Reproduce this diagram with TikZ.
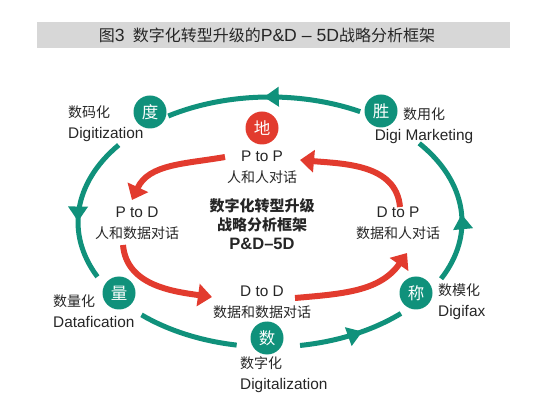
\documentclass[tikz,border=0pt]{standalone}
\usepackage{fontspec}
\setmainfont{Noto Sans CJK SC}
\newfontfamily\latin{Liberation Sans}[Scale=1.1]
\usetikzlibrary{calc,arrows.meta,decorations.markings}
\definecolor{ringgreen}{HTML}{10917B}
\definecolor{flowred}{HTML}{E23B2E}
\definecolor{bargray}{HTML}{D7D7D7}
\tikzset{>=stealth}
\tikzset{
  stage/.style={circle,fill=#1,text=white,minimum size=33pt,inner sep=0pt,font=\fontsize{16.5}{16}\selectfont},
  stage/.default=ringgreen,
  tagtext/.style={inner sep=0pt,font=\fontsize{14}{21}\selectfont,text=black!85},
  ring/.style={ringgreen,line width=5pt},
  ringarrow/.style={postaction={decorate},decoration={markings,mark=at position #1 with {\arrow{Triangle[length=15pt,width=19pt]}}}},
  flow/.style={draw=flowred,line width=6pt,-{Triangle[length=14pt,width=22pt]}}
}

\begin{document}
\begin{tikzpicture}[x=1pt,y=1pt]
\useasboundingbox (0,0) rectangle (534,409);
\fill[bargray] (37,361) rectangle (510,387);
\node[font=\fontsize{16}{16}\selectfont,text=black!85] (title) at (267,374) {图{\latin 3}\enspace 数字化转型升级的{\latin P\&D – 5D}战略分析框架};
\coordinate (O) at (270,187);
\draw[ring,ringarrow=0.5] (O) ++(62:192pt and 125pt) arc[start angle=62,end angle=122,x radius=192pt,y radius=125pt];
\draw[ring,ringarrow=0.6] (O) ++(142:192pt and 125pt) arc[start angle=142,end angle=206,x radius=192pt,y radius=125pt];
\draw[ring] (O) ++(228:192pt and 125pt) arc[start angle=228,end angle=260,x radius=192pt,y radius=125pt];
\draw[ring,ringarrow=0.6] (O) ++(279:192pt and 125pt) arc[start angle=279,end angle=313,x radius=192pt,y radius=125pt];
\draw[ring,ringarrow=0.45] (O) ++(333:192pt and 125pt) arc[start angle=333,end angle=399,x radius=192pt,y radius=125pt];
\node[stage] (du) at (150,297) {度};
\node[stage] (sheng) at (381,298) {胜};
\node[stage] (liang) at (119,116) {量};
\node[stage] (shu) at (267,71) {数};
\node[stage] (cheng) at (416,116) {称};
\node[stage=flowred] (di) at (262,281) {地};
\node[tagtext,align=left,anchor=west] (digitization) at (68,285) {数码化\\{\latin Digitization}};
\node[tagtext,align=center] (marketing) at (424,283) {数用化\\{\latin Digi Marketing}};
\node[tagtext,align=left,anchor=west] (datafication) at (53,98) {数量化\\{\latin Datafication}};
\node[tagtext,align=left,anchor=west] (digitalization) at (240,34) {数字化\\{\latin Digitalization}};
\node[tagtext,align=left,anchor=west] (digifax) at (438,107) {数模化\\{\latin Digifax}};
\node[tagtext,align=center] (pp) at (262,242) {{\latin P to P}\\人和人对话};
\node[tagtext,align=center] (pd) at (137,186) {{\latin P to D}\\人和数据对话};
\node[tagtext,align=center] (dd) at (262,107) {{\latin D to D}\\数据和数据对话};
\node[tagtext,align=center] (dp) at (398,186) {{\latin D to P}\\数据和人对话};
\node[tagtext,align=center,font=\bfseries\fontsize{15}{19}\selectfont] (core) at (262,185) {数字化转型升级\\战略分析框架\\{\latin P\&D–5D}};
\draw[flow] ($(pp)+(-37,10)$) to[out=190,in=65] ($(pd)+(-5,23)$);
\draw[flow] ($(pd)+(-14,-22)$) to[out=-85,in=172] ($(dd)+(-50,5)$);
\draw[flow] ($(dd)+(33,4)$) to[out=5,in=235] ($(dp)+(9,-30)$);
\draw[flow] ($(dp)+(2,16)$) to[out=95,in=-5] ($(pp)+(38,7)$);
\end{tikzpicture}
\end{document}
